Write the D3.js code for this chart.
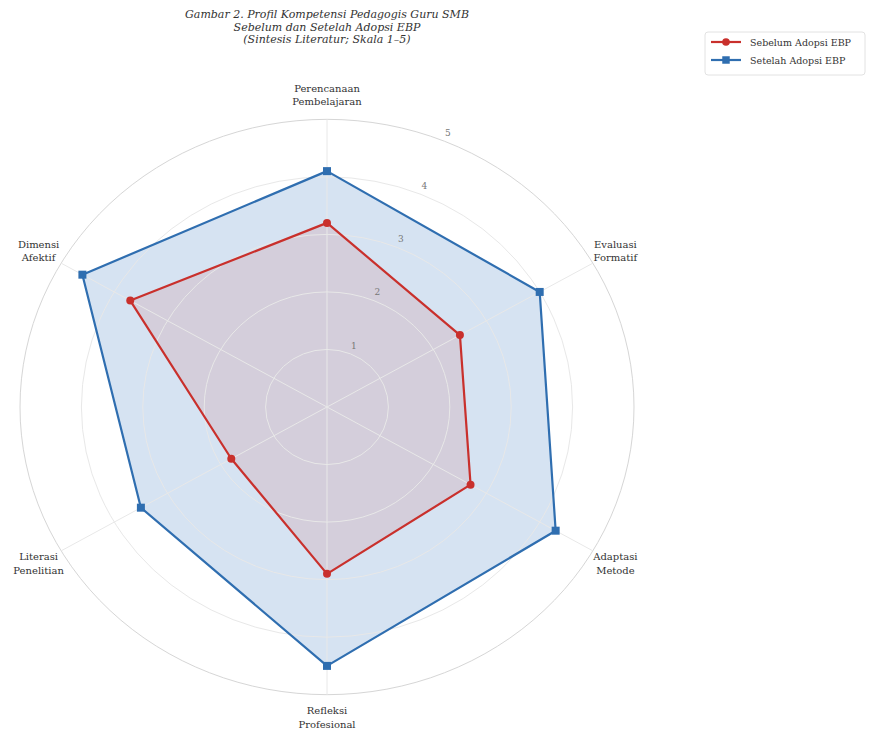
<!DOCTYPE html>
<html>
<head>
<meta charset="utf-8">
<script src="https://d3js.org/d3.v7.min.js"></script>
<style>
    body { margin: 0; background: #fff; }
    text { font-family: "DejaVu Serif", serif; fill: #333; }
</style>
</head>
<body>
<script>
// data
var categories = [
    ["Perencanaan", "Pembelajaran"],
    ["Evaluasi", "Formatif"],
    ["Adaptasi", "Metode"],
    ["Refleksi", "Profesional"],
    ["Literasi", "Penelitian"],
    ["Dimensi", "Afektif"]
];
var sebelum = [3.2, 2.5, 2.7, 2.9, 1.8, 3.7];
var setelah = [4.1, 4.0, 4.3, 4.5, 3.5, 4.6];
var rTicks = [1, 2, 3, 4, 5];
var seriesNames = ["Sebelum Adopsi EBP", "Setelah Adopsi EBP"];
var titleLines = [
    "Gambar 2. Profil Kompetensi Pedagogis Guru SMB",
    "Sebelum dan Setelah Adopsi EBP",
    "(Sintesis Literatur; Skala 1\u20135)"
];

var W = 869, H = 732,
    cx = 327, cy = 407,
    sy = 0.937; // picture is a bit squashed vertically

var svg = d3.select("body").append("svg")
    .attr("width", W).attr("height", H);

var r = d3.scaleLinear().domain([0, 5]).range([0, 307]);
var angle = d3.scaleLinear().domain([0, categories.length]).range([0, 2 * Math.PI]);

function px(i, v) { return cx + r(v) * Math.sin(angle(i)); }
function py(i, v) { return cy - r(v) * Math.cos(angle(i)) * sy; }

var series = [
    {name: seriesNames[1], values: setelah, color: "#2f6eb0", fill: "rgba(90,145,205,0.25)", shape: "square"},
    {name: seriesNames[0], values: sebelum, color: "#c9302c", fill: "rgba(200,60,60,0.12)", shape: "circle"}
];

var g = svg.append("g");

// fills first
series.forEach(function(s) {
    var pts = s.values.map(function(v, i) { return [px(i, v), py(i, v)]; });
    g.append("path")
        .attr("d", d3.line().curve(d3.curveLinearClosed)(pts))
        .attr("fill", s.fill);
});

// rings
g.selectAll("ellipse.ring").data(rTicks).enter().append("ellipse")
    .attr("class", "ring")
    .attr("cx", cx).attr("cy", cy)
    .attr("rx", function(d) { return r(d); })
    .attr("ry", function(d) { return r(d) * sy; })
    .attr("fill", "none")
    .attr("stroke", function(d) { return d == 5 ? "#d6d6d6" : "#e8e8e8"; })
    .attr("stroke-width", 1);

// spokes
g.selectAll("line.spoke").data(categories).enter().append("line")
    .attr("x1", cx).attr("y1", cy)
    .attr("x2", function(d, i) { return px(i, 5); })
    .attr("y2", function(d, i) { return py(i, 5); })
    .attr("stroke", "#e8e8e8").attr("stroke-width", 1);

// outlines and markers
series.forEach(function(s) {
    var pts = s.values.map(function(v, i) { return [px(i, v), py(i, v)]; });
    g.append("path")
        .attr("d", d3.line().curve(d3.curveLinearClosed)(pts))
        .attr("fill", "none")
        .attr("stroke", s.color)
        .attr("stroke-width", 2.2)
        .attr("stroke-linejoin", "round");
    var sym = d3.symbol().type(s.shape == "square" ? d3.symbolSquare : d3.symbolCircle)
        .size(s.shape == "square" ? 64 : 50);
    g.selectAll(null).data(s.values).enter().append("path")
        .attr("d", sym)
        .attr("transform", function(d, i) { return "translate(" + px(i, d) + "," + py(i, d) + ")"; })
        .attr("fill", s.color);
});

// radial tick labels at 22.5 deg
var a0 = 22.5 * Math.PI / 180;
g.selectAll("text.rtick").data(rTicks).enter().append("text")
    .attr("x", function(d) { return cx + (r(d) + 9) * Math.sin(a0); })
    .attr("y", function(d) { return cy - (r(d) + 9) * Math.cos(a0) * sy; })
    .attr("text-anchor", "middle")
    .attr("dominant-baseline", "middle")
    .style("font-size", "9px")
    .style("fill", "#777")
    .text(function(d) { return d; });

// category labels
var lab = g.selectAll("text.cat").data(categories).enter().append("text")
    .attr("text-anchor", "middle")
    .style("font-size", "10px")
    .attr("transform", function(d, i) {
        var rr = r(5) + 26;
        return "translate(" + (cx + rr * Math.sin(angle(i))) + "," + (cy - rr * Math.cos(angle(i)) * sy - (i == 3 ? 2 : 0)) + ")";
    });
lab.selectAll("tspan").data(function(d) { return d; }).enter().append("tspan")
    .attr("x", 0)
    .attr("y", function(d, i) { return i == 0 ? -3 : 10.5; })
    .text(function(d) { return d; });

// title
svg.selectAll("text.title").data(titleLines).enter().append("text")
    .attr("x", cx).attr("y", function(d, i) { return 18 + i * 12.5; })
    .attr("text-anchor", "middle")
    .style("font-size", "11px")
    .style("font-style", "italic")
    .text(function(d) { return d; });

// legend
var leg = svg.append("g").attr("transform", "translate(705,32)");
leg.append("rect")
    .attr("width", 160).attr("height", 43).attr("rx", 3)
    .attr("fill", "#fff").attr("stroke", "#e2e2e2");
[series[1], series[0]].forEach(function(s, i) {
    var yy = 10 + i * 18;
    leg.append("line").attr("x1", 6).attr("x2", 36).attr("y1", yy).attr("y2", yy)
        .attr("stroke", s.color).attr("stroke-width", 2.2);
    leg.append("path")
        .attr("d", d3.symbol().type(s.shape == "square" ? d3.symbolSquare : d3.symbolCircle).size(s.shape == "square" ? 56 : 46))
        .attr("transform", "translate(21," + yy + ")")
        .attr("fill", s.color);
    leg.append("text").attr("x", 45).attr("y", yy + 3.5)
        .style("font-size", "9.5px")
        .text(s.name);
});
</script>
</body>
</html>
